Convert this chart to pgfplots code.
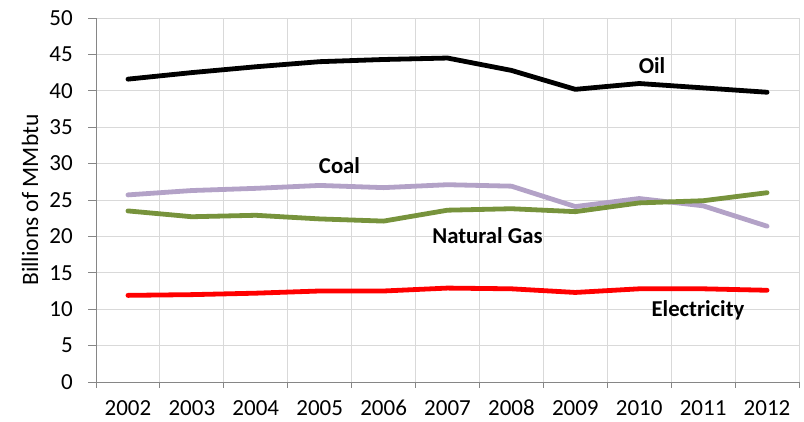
\documentclass[border=0pt]{standalone}
\usepackage{pgfplots}
\pgfplotsset{compat=1.18}
\usepackage{fontspec}
\setmainfont{Carlito}
\definecolor{gridgray}{HTML}{D9D9D9}
\definecolor{axgray}{HTML}{868686}
\definecolor{coalc}{HTML}{B3A2C7}
\definecolor{gasc}{HTML}{77933C}
\begin{document}
\begin{tikzpicture}
\path[use as bounding box] (-96pt,-40pt) rectangle (708pt,382pt);
\begin{axis}[
  at={(0pt,0pt)}, anchor=south west,
  scale only axis, width=703pt, height=364pt,
  xmin=0, xmax=11, ymin=0, ymax=50,
  xtick={0.5,1.5,...,10.5},
  xticklabels={2002,2003,2004,2005,2006,2007,2008,2009,2010,2011,2012},
  minor xtick={0,1,...,11},
  ytick={0,5,...,50},
  major x tick style={draw=none},
  xminorgrids=true, ymajorgrids=true,
  grid style={gridgray, line width=0.9pt},
  minor grid style={gridgray, line width=0.9pt},
  axis x line*=bottom, axis y line*=left,
  axis line style={axgray, line width=0.9pt},
  tick style={axgray, line width=0.9pt},
  tick align=outside,
  major tick length=8pt, minor tick length=6pt,
  /pgf/number format/assume math mode=true,
  ticklabel style={font=\fontsize{23}{26}\selectfont, text=black},
  xticklabel style={text height=0.65em, text depth=0pt, inner sep=0pt, anchor=north, yshift=-19pt},
  yticklabel style={inner sep=0pt, anchor=east, xshift=-15pt},
  ylabel={Billions of MMbtu},
  every axis y label/.style={at={(axis description cs:0,0.5)}, xshift=-66pt, rotate=90, font=\fontsize{23.5}{26}\selectfont},
  clip=false,
  every axis plot/.append style={line width=4.8pt, line join=round, line cap=round},
]
\addplot[black] coordinates {(0.5,41.6)(1.5,42.5)(2.5,43.3)(3.5,44.0)(4.5,44.3)(5.5,44.5)(6.5,42.8)(7.5,40.2)(8.5,41.0)(9.5,40.4)(10.5,39.8)};
\addplot[coalc] coordinates {(0.5,25.7)(1.5,26.3)(2.5,26.6)(3.5,27.0)(4.5,26.7)(5.5,27.1)(6.5,26.9)(7.5,24.1)(8.5,25.2)(9.5,24.2)(10.5,21.4)};
\addplot[gasc] coordinates {(0.5,23.5)(1.5,22.7)(2.5,22.9)(3.5,22.4)(4.5,22.1)(5.5,23.6)(6.5,23.8)(7.5,23.4)(8.5,24.6)(9.5,24.9)(10.5,26.0)};
\addplot[red] coordinates {(0.5,11.9)(1.5,12.0)(2.5,12.2)(3.5,12.5)(4.5,12.5)(5.5,12.9)(6.5,12.8)(7.5,12.3)(8.5,12.8)(9.5,12.8)(10.5,12.6)};
\node[font=\bfseries\fontsize{22.7}{26}\selectfont] at (axis cs:8.70,43.4) {Oil};
\node[font=\bfseries\fontsize{22.7}{26}\selectfont] at (axis cs:3.81,29.7) {Coal};
\node[font=\bfseries\fontsize{22.7}{26}\selectfont] at (axis cs:6.125,20.05) {Natural Gas};
\node[font=\bfseries\fontsize{22.7}{26}\selectfont] at (axis cs:9.42,9.9) {Electricity};
\end{axis}
\end{tikzpicture}
\end{document}
